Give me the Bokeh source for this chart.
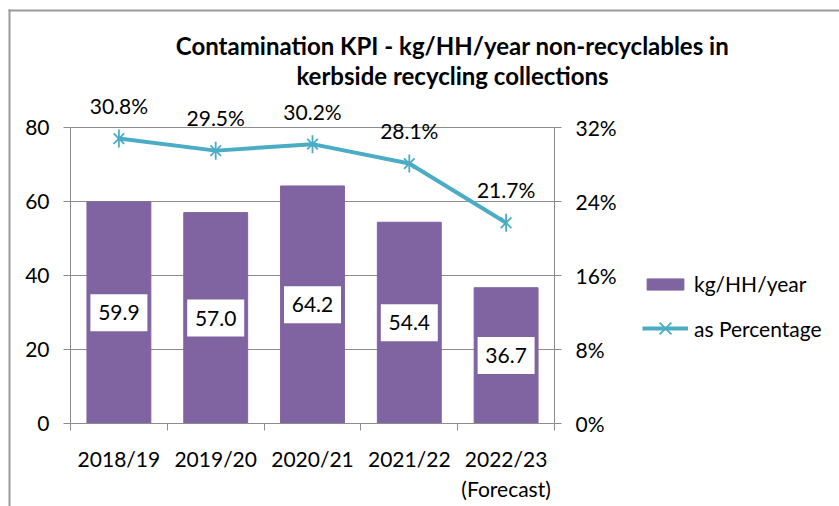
import math
from bokeh.plotting import figure
from bokeh.models import (Range1d, LinearAxis, FixedTicker, ColumnDataSource, LabelSet, Label,
                          Legend, LegendItem, BoxAnnotation, PrintfTickFormatter,
                          CustomJSTickFormatter)
from bokeh.core.properties import value
from bokeh.embed import file_html
from bokeh.resources import INLINE

# ---- data ----
categories = ["2018/19", "2019/20", "2020/21", "2021/22", "2022/23\n(Forecast)"]
kg_per_hh = [59.9, 57.0, 64.2, 54.4, 36.7]
pct_values = [30.8, 29.5, 30.2, 28.1, 21.7]
left_ticks = [0, 20, 40, 60, 80]
right_ticks = [0, 8, 16, 24, 32]
title_lines = ["Contamination KPI - kg/HH/year non-recyclables in",
               "kerbside recycling collections"]
series_names = ["kg/HH/year", "as Percentage"]

FONT = "Lato"
FS = "21px"
BAR_C = "#8064A2"
LINE_C = "#4BACC6"
AX_C = "#8c8c8c"

# ---- layout (pixels) ----
W, H = 839, 506
PL, PR, PT, PB = 70, 554, 127, 423      # plot area edges in canvas px
n = len(categories)
ymax, pmax = left_ticks[-1], right_ticks[-1]
xs = (PR - PL) / n
ys = (PB - PT) / ymax
ps = (PB - PT) / pmax

idx = list(range(n))                      # category index -> x position
src = ColumnDataSource(dict(
    x=idx,
    kg=kg_per_hh,
    kg_mid=[v / 2 for v in kg_per_hh],
    kg_lbl=[f"{v:.1f}" for v in kg_per_hh],
    pct=pct_values,
    pct_lbl=[f"{v:.1f}%" for v in pct_values],
))

x_lo, x_hi = -0.5, n - 0.5
p = figure(x_range=Range1d(x_lo - PL / xs, x_hi + (W - PR) / xs),
           y_range=Range1d(-(H - PB) / ys, ymax + PT / ys),
           frame_width=W, frame_height=H,
           min_border_left=0, min_border_right=0, min_border_top=0, min_border_bottom=0,
           x_axis_location=None, y_axis_location=None,
           output_backend="svg", toolbar_location=None)
p.outline_line_color = None
p.background_fill_color = "white"
p.border_fill_color = "white"
p.extra_y_ranges = {"pct": Range1d(-(H - PB) / ps, pmax + PT / ps)}
p.xgrid.visible = False
p.ygrid.visible = False

# gridlines limited to the plot area
k = len(left_ticks) - 1
gsrc = ColumnDataSource(dict(y=left_ticks[1:], x0=[x_lo] * k, x1=[x_hi] * k))
p.segment(x0="x0", x1="x1", y0="y", y1="y", source=gsrc, line_color=AX_C, line_width=1)

def style_axis(ax):
    ax.axis_line_color = AX_C
    ax.major_tick_line_color = AX_C
    ax.major_tick_in = 0
    ax.major_tick_out = 7
    ax.minor_tick_line_color = None
    ax.major_label_standoff = 14
    ax.major_label_text_font = FONT
    ax.major_label_text_font_size = FS
    ax.major_label_text_color = "black"

# left axis
la = LinearAxis(ticker=FixedTicker(ticks=left_ticks), fixed_location=x_lo, bounds=(0, ymax))
style_axis(la)
p.add_layout(la, "left")

# right axis
ra = LinearAxis(y_range_name="pct", ticker=FixedTicker(ticks=right_ticks),
                formatter=PrintfTickFormatter(format="%d%%"), fixed_location=x_hi,
                bounds=(0, pmax))
style_axis(ra)
p.add_layout(ra, "right")

# bottom: boundary ticks (no labels) + category labels
ta = LinearAxis(ticker=FixedTicker(ticks=[i - 0.5 for i in range(n + 1)]), fixed_location=0,
                bounds=(x_lo, x_hi), formatter=CustomJSTickFormatter(code="return ''"))
style_axis(ta)
ta.major_label_standoff = 0
p.add_layout(ta, "below")

ca = LinearAxis(ticker=FixedTicker(ticks=idx), fixed_location=0,
                major_label_overrides={i: c for i, c in zip(idx, categories)})
ca.axis_line_color = None
ca.major_tick_line_color = None
ca.minor_tick_line_color = None
ca.major_label_standoff = 16
ca.major_label_text_font = FONT
ca.major_label_text_font_size = FS
ca.major_label_text_color = "black"
p.add_layout(ca, "below")

# glyphs
bars = p.vbar(x="x", top="kg", width=0.66, source=src, fill_color=BAR_C, line_color=BAR_C)
ln = p.line(x="x", y="pct", source=src, y_range_name="pct", line_color=LINE_C, line_width=4)
m1 = p.scatter(x="x", y="pct", source=src, y_range_name="pct", marker="x", size=15,
               line_color=LINE_C, line_width=1.8)
m2 = p.scatter(x="x", y="pct", source=src, y_range_name="pct", marker="dash", size=18,
               angle=math.pi / 2, line_color=LINE_C, line_width=1.8)

# data labels
p.rect(x="x", y="kg_mid", width=57, height=37, width_units="screen", height_units="screen",
       source=src, fill_color="white", line_color=None)
p.add_layout(LabelSet(x="x", y="kg_mid", text="kg_lbl", source=src,
                      text_align="center", text_baseline="middle",
                      text_font=value(FONT), text_font_size=value(FS), text_color="black"))
p.add_layout(LabelSet(x="x", y="pct", y_range_name="pct", text="pct_lbl", source=src,
                      y_offset=33, text_align="center", text_baseline="middle",
                      text_font=value(FONT), text_font_size=value(FS), text_color="black"))

# title
for i, t in enumerate(title_lines):
    p.add_layout(Label(x=452, y=H - 45 - 30 * i, x_units="screen", y_units="screen", text=t,
                       text_align="center", text_baseline="middle", text_font=FONT,
                       text_font_size="24px", text_font_style="bold", text_color="black"))

# legends (two, so the bar swatch stays flat while the line item shows its marker)
leg_common = dict(glyph_width=46, label_height=20, label_standoff=6, padding=0, margin=0,
                  border_line_color=None, background_fill_alpha=0,
                  label_text_font=FONT, label_text_font_size=FS, label_text_color="black")
p.add_layout(Legend(items=[LegendItem(label=series_names[0], renderers=[bars])],
                    location=(642, H - 296), glyph_height=14, **leg_common))
p.add_layout(Legend(items=[LegendItem(label=series_names[1], renderers=[ln, m1, m2])],
                    location=(642, H - 349), glyph_height=42, **leg_common))

# outer border (left and top)
for l, r, t, b in [(8, 10, H - 9, 0), (8, W, H - 9, H - 11)]:
    p.add_layout(BoxAnnotation(left=l, right=r, top=t, bottom=b,
                               left_units="screen", right_units="screen",
                               top_units="screen", bottom_units="screen",
                               fill_color="#9a9a9a", fill_alpha=1, line_color=None))

open("out.html", "w").write(file_html(p, INLINE))
